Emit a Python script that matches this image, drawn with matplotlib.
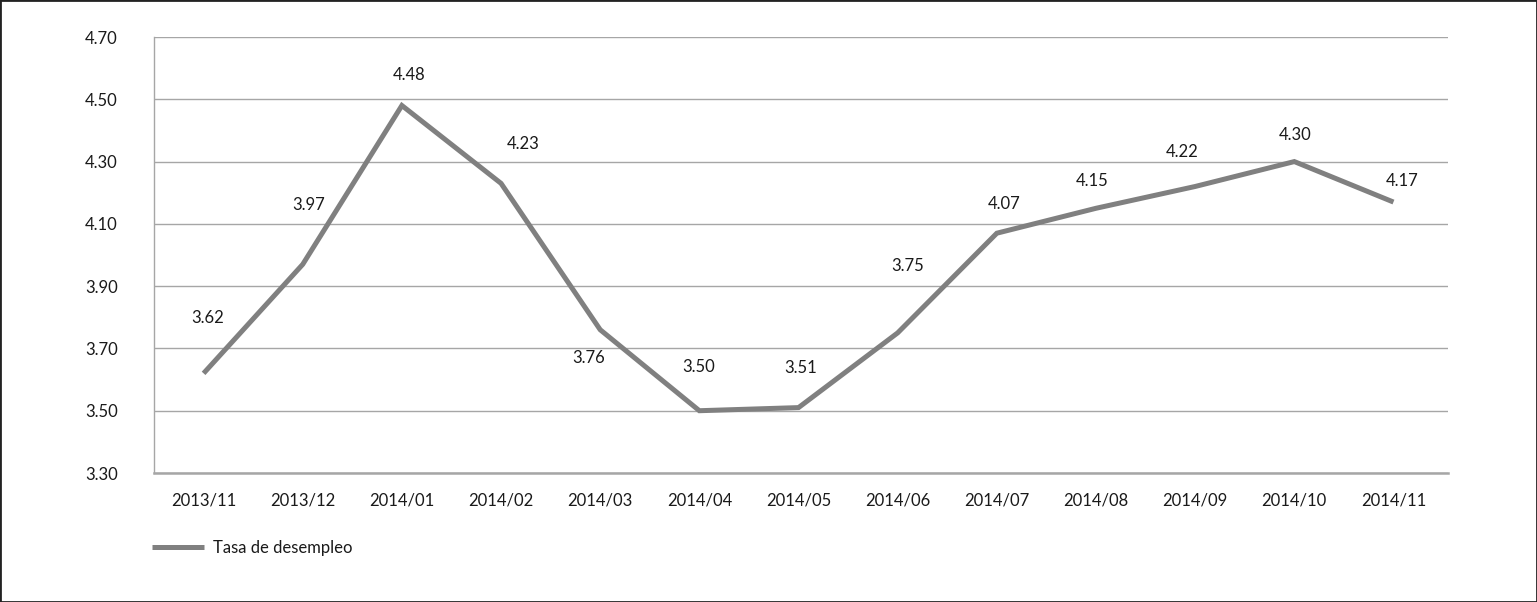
import matplotlib.pyplot as plt
from matplotlib.patches import Rectangle

months = ["2013/11", "2013/12", "2014/01", "2014/02", "2014/03", "2014/04", "2014/05",
          "2014/06", "2014/07", "2014/08", "2014/09", "2014/10", "2014/11"]
rate = [3.62, 3.97, 4.48, 4.23, 3.76, 3.50, 3.51, 3.75, 4.07, 4.15, 4.22, 4.30, 4.17]
yticks = [3.30, 3.50, 3.70, 3.90, 4.10, 4.30, 4.50, 4.70]

# label offsets in pixels (dx, dy) relative to each point
label_dx = [4, 6, 7, 22, -12, -1, 2, 10, 7, -4, -13, 1, 9]
label_dy = [55, 59, 31, 39, -28, 44, 40, 67, 29, 27, 34, 27, 21]

plt.rcParams['font.family'] = ['Lato', 'DejaVu Sans']
txt_color = "#1a1a1a"
fs = 12

fig = plt.figure(figsize=(15.37, 6.02), dpi=100)
ax = fig.add_axes([154 / 1537, 1 - 473 / 602, (1448 - 154) / 1537, (473 - 37) / 602])

x = list(range(len(months)))
ax.plot(x, rate, color="#808080", lw=3.6, solid_joinstyle="miter", solid_capstyle="butt",
        label="Tasa de desempleo", zorder=3)

for i, v in enumerate(rate):
    ax.annotate(f"{v:.2f}", (i, v), xytext=(label_dx[i], label_dy[i]), textcoords="offset pixels",
                ha="center", va="center", fontsize=fs, color=txt_color)

ax.set_xlim(-0.5, len(months) - 0.45)
ax.set_ylim(3.30, 4.70)
ax.set_yticks(yticks)
ax.set_yticklabels([f"{t:.2f}" for t in yticks])
ax.set_xticks(x)
ax.set_xticklabels(months)
ax.tick_params(length=0, labelsize=fs, colors=txt_color)
ax.tick_params(axis="y", pad=26)
ax.tick_params(axis="x", pad=14)
ax.grid(axis="y", color="#a6a6a6", lw=1.0)
ax.set_axisbelow(True)
for s in ["top", "right"]:
    ax.spines[s].set_visible(False)
ax.spines["left"].set_color("#a6a6a6")
ax.spines["left"].set_linewidth(1.0)
ax.spines["bottom"].set_color("#a6a6a6")
ax.spines["bottom"].set_linewidth(1.8)

ax.legend(loc="center left", bbox_to_anchor=(152 / 1537, 1 - 548 / 602),
          bbox_transform=fig.transFigure, frameon=False, borderpad=0, borderaxespad=0,
          handlelength=3.1, handletextpad=0.55, fontsize=fs, labelcolor=txt_color)

fig.patches.append(Rectangle((0, 0), 1, 1, transform=fig.transFigure, fill=False,
                             edgecolor="#222222", lw=2.0))

fig.savefig("out.png", dpi=100)
